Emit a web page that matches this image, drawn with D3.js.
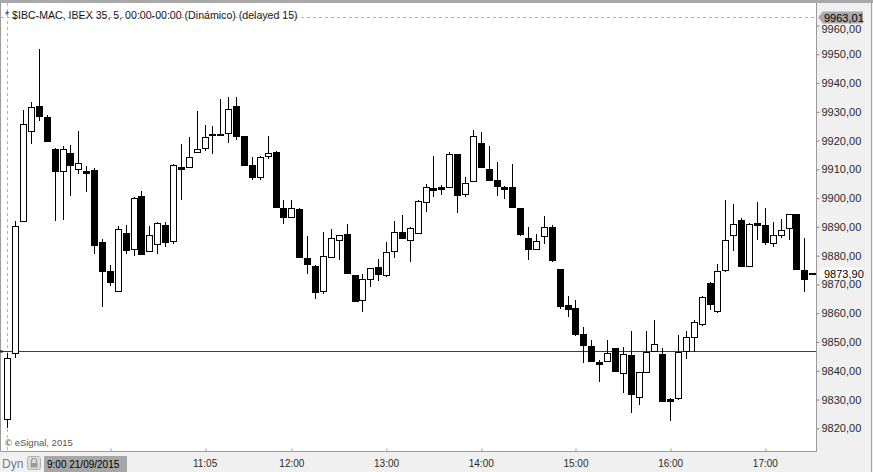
<!DOCTYPE html>
<html>
<head>
<meta charset="utf-8">
<script src="https://cdn.jsdelivr.net/npm/d3@7"></script>
<style>
  body { margin: 0; background: #fff; }
  svg { display: block; font-family: "Liberation Sans", Arial, sans-serif; }
</style>
</head>
<body>
<svg></svg>
<script>
// 5 min bars, IBEX 35, 21/09/2015 from 9:00 to 17:30
const opens = [9823.1, 9846.1, 9891.9, 9923.2, 9931.9, 9928.1, 9917.1, 9909.3, 9915.6, 9910.0,
  9909.4, 9909.8, 9884.7, 9874.7, 9867.6, 9887.8, 9882.2, 9900.6, 9881.5, 9883.9,
  9890.7, 9885.0, 9910.7, 9910.7, 9916.0, 9917.3, 9922.2, 9922.2, 9922.5, 9932.0,
  9921.6, 9911.5, 9907.2, 9914.5, 9916.0, 9896.5, 9893.3, 9896.1, 9879.1, 9876.3,
  9867.8, 9879.6, 9885.3, 9887.5, 9873.3, 9864.5, 9871.8, 9876.0, 9873.4, 9881.5,
  9888.2, 9885.3, 9887.8, 9898.5, 9903.4, 9903.8, 9903.8, 9915.3, 9901.3, 9905.8,
  9919.1, 9910.0, 9906.2, 9903.9, 9903.8, 9896.5, 9886.0, 9882.2, 9886.7, 9889.9,
  9875.3, 9862.7, 9861.8, 9852.8, 9848.6, 9843.0, 9843.3, 9847.8, 9839.1, 9845.4,
  9830.8, 9839.5, 9846.8, 9845.7, 9830.2, 9830.4, 9846.8, 9851.6, 9856.4, 9870.4,
  9860.9, 9875.1, 9887.1, 9892.3, 9876.5, 9891.4, 9890.7, 9884.3, 9887.1, 9889.5,
  9894.4, 9874.9, 9873.9];
const highs = [9846.1, 9892.0, 9930.6, 9933.4, 9951.8, 9928.8, 9917.5, 9918.1, 9918.5, 9923.3,
  9911.2, 9910.5, 9885.7, 9876.8, 9890.3, 9890.7, 9900.5, 9902.5, 9890.3, 9891.6,
  9891.7, 9911.9, 9918.8, 9921.2, 9930.3, 9925.4, 9925.1, 9934.5, 9935.1, 9935.1,
  9921.6, 9914.3, 9914.6, 9921.6, 9916.4, 9899.3, 9899.3, 9896.6, 9886.8, 9876.6,
  9888.2, 9889.3, 9887.1, 9891.0, 9873.3, 9873.6, 9875.6, 9878.8, 9884.7, 9892.2,
  9894.2, 9889.9, 9899.3, 9904.8, 9914.6, 9904.6, 9916.1, 9915.5, 9907.2, 9923.7,
  9922.9, 9918.1, 9912.6, 9904.2, 9911.9, 9896.5, 9889.9, 9887.5, 9893.8, 9890.7,
  9875.3, 9866.0, 9864.6, 9855.2, 9850.7, 9843.7, 9850.7, 9847.8, 9848.3, 9853.8,
  9839.7, 9853.8, 9857.6, 9847.9, 9830.5, 9852.4, 9853.8, 9857.6, 9866.0, 9870.8,
  9877.1, 9899.3, 9898.0, 9893.0, 9891.4, 9898.7, 9896.6, 9891.7, 9892.7, 9894.4,
  9894.4, 9886.0, 9873.9];
const lows = [9820.6, 9844.7, 9891.9, 9919.3, 9927.0, 9920.0, 9892.5, 9892.8, 9901.2, 9908.8,
  9902.6, 9880.8, 9862.6, 9869.8, 9867.6, 9881.0, 9880.3, 9880.7, 9881.5, 9881.0,
  9883.5, 9884.5, 9899.8, 9910.7, 9916.0, 9916.8, 9915.8, 9921.8, 9919.6, 9920.7,
  9911.6, 9906.5, 9906.7, 9914.0, 9897.0, 9891.5, 9893.3, 9879.6, 9874.1, 9865.4,
  9867.1, 9879.6, 9878.9, 9874.1, 9864.3, 9860.9, 9869.6, 9871.5, 9873.0, 9879.6,
  9886.2, 9878.2, 9887.8, 9895.6, 9900.8, 9901.5, 9903.8, 9895.3, 9900.6, 9905.8,
  9910.7, 9906.4, 9901.2, 9900.1, 9897.0, 9887.3, 9878.9, 9882.2, 9884.5, 9878.1,
  9861.9, 9859.1, 9852.5, 9843.1, 9843.5, 9836.5, 9843.3, 9840.0, 9832.7, 9825.8,
  9828.5, 9839.5, 9846.8, 9829.6, 9822.9, 9830.1, 9844.5, 9846.8, 9856.0, 9861.5,
  9860.4, 9874.8, 9882.0, 9876.5, 9876.5, 9885.9, 9883.9, 9883.4, 9886.6, 9885.9,
  9875.5, 9867.8, 9873.9];
const closes = [9844.3, 9890.2, 9925.7, 9931.6, 9928.4, 9920.0, 9909.5, 9917.0, 9911.6, 9912.1,
  9908.8, 9883.8, 9874.6, 9870.9, 9889.2, 9882.1, 9899.9, 9880.7, 9887.1, 9891.2,
  9884.9, 9911.4, 9910.2, 9914.2, 9917.0, 9921.1, 9921.8, 9921.8, 9930.9, 9921.7,
  9911.6, 9907.4, 9914.2, 9915.6, 9897.0, 9893.3, 9896.5, 9879.6, 9877.0, 9867.5,
  9879.8, 9886.0, 9887.1, 9874.1, 9864.3, 9871.8, 9875.6, 9873.7, 9881.2, 9888.1,
  9886.2, 9889.5, 9899.0, 9903.8, 9902.9, 9903.3, 9915.2, 9901.2, 9905.2, 9921.5,
  9910.7, 9906.4, 9904.1, 9903.3, 9897.0, 9887.6, 9882.2, 9885.0, 9889.9, 9878.5,
  9862.6, 9861.6, 9852.8, 9849.1, 9843.5, 9842.4, 9846.1, 9840.0, 9845.7, 9831.8,
  9839.7, 9846.6, 9849.2, 9829.6, 9829.6, 9846.4, 9851.6, 9856.8, 9865.5, 9863.3,
  9874.6, 9885.3, 9890.9, 9876.5, 9890.9, 9890.8, 9884.9, 9887.1, 9888.8, 9894.4,
  9875.5, 9872.0, 9873.9];

// price axis ticks
const priceTicks = [9820, 9830, 9840, 9850, 9860, 9870, 9880, 9890, 9900, 9910, 9920, 9930, 9940, 9950, 9960];
// time axis: bar index of each tick and its label (10:05 sits under the date box)
const timeTickBars = [13, 25, 36, 48, 60, 72, 84, 96];
const timeTickLabels = ["", "11:05", "12:00", "13:00", "14:00", "15:00", "16:00", "17:00"];

const titleText = "* $IBC-MAC, IBEX 35, 5, 00:00-00:00 (Dinámico) (delayed 15)";
const dateText = "9:00 21/09/2015";
const highMark = 9963.01;   // dashed level at the top
const prevClose = 9846.9;   // red reference line
const lastPrice = 9873.90;

const W = 873, H = 472;
const plotRight = 817, plotBottom = 451;

const svg = d3.select("svg").attr("width", W).attr("height", H);

const x = d3.scaleLinear().domain([0, 101]).range([7.3, 804.3]);
const y = d3.scaleLinear().domain([9820, 9960]).range([428.3, 25.5]);

const fmt = v => d3.format(".2f")(v).replace(".", ",");

// right and bottom axis panels
svg.append("rect").attr("x", plotRight).attr("y", 0).attr("width", W - plotRight).attr("height", H).attr("fill", "#f0f0f0");
svg.append("rect").attr("x", 0).attr("y", plotBottom).attr("width", W).attr("height", H - plotBottom).attr("fill", "#f0f0f0");
svg.append("rect").attr("x", 0).attr("y", 0).attr("width", W).attr("height", 3).attr("fill", "#a8a8a8");

// frame
svg.append("path")
  .attr("d", `M0.5,3V${plotBottom + 0.5}H${plotRight - 0.5}V3`)
  .attr("fill", "none").attr("stroke", "#9a9a9a");
svg.append("line").attr("x1", W - 1.5).attr("x2", W - 1.5).attr("y1", 3).attr("y2", H)
  .attr("stroke", "#a0a0a0");

// dashed guides
svg.append("line")
  .attr("x1", 7.5).attr("x2", 7.5).attr("y1", 3).attr("y2", plotBottom)
  .attr("stroke", "#b4b4b4").attr("stroke-dasharray", "3,3");
svg.append("line")
  .attr("x1", 1).attr("x2", plotRight - 3)
  .attr("y1", Math.round(y(highMark)) + 0.5).attr("y2", Math.round(y(highMark)) + 0.5)
  .attr("stroke", "#b4b4b4").attr("stroke-dasharray", "3,3");

// previous close line
const pcY = Math.round(y(prevClose)) + 0.5;
svg.append("line")
  .attr("x1", 1).attr("x2", plotRight - 1).attr("y1", pcY).attr("y2", pcY)
  .attr("stroke", "#d40000");
svg.append("rect").attr("x", 0).attr("y", pcY - 1).attr("width", 3).attr("height", 2).attr("fill", "#222");

// title
svg.append("text")
  .attr("x", 5).attr("y", 19)
  .attr("font-size", 10.6).attr("fill", "#1a1a1a")
  .text(titleText);

// candles
const bars = d3.range(opens.length).map(i => ({
  i, o: opens[i], h: highs[i], l: lows[i], c: closes[i]
}));

const candle = svg.append("g").selectAll("g").data(bars).join("g");

candle.append("line")
  .attr("x1", d => Math.round(x(d.i)) + 0.5)
  .attr("x2", d => Math.round(x(d.i)) + 0.5)
  .attr("y1", d => Math.round(y(d.h)))
  .attr("y2", d => Math.round(y(d.l)) + 1)
  .attr("stroke", "#000");

candle.append("rect")
  .attr("x", d => Math.round(x(d.i)) - 2.5)
  .attr("width", 6)
  .attr("y", d => Math.round(y(Math.max(d.o, d.c))) + 0.5)
  .attr("height", d => Math.max(Math.round(y(Math.min(d.o, d.c))) - Math.round(y(Math.max(d.o, d.c))), 1))
  .attr("fill", d => d.c > d.o ? "#fff" : "#000")
  .attr("stroke", "#000");

// price axis
const yAxis = svg.append("g")
  .attr("transform", `translate(${plotRight - 0.5},0)`)
  .call(d3.axisRight(y).tickValues(priceTicks).tickSize(3).tickPadding(2).tickFormat(fmt));
yAxis.select(".domain").remove();
yAxis.selectAll("line").attr("stroke", "#888");
yAxis.selectAll("text")
  .attr("font-family", "Liberation Sans, Arial, sans-serif")
  .attr("font-size", 11).attr("fill", "#2a2a2a");
// the top label peeks out just below the 9963,01 flag
yAxis.selectAll(".tick").filter(d => d === 9960).select("text").attr("dy", "0.62em");

// price flags on the axis
function flag(value, fill) {
  const cy = Math.round(y(value)) + 0.5;
  const g = svg.append("g");
  g.append("path")
    .attr("d", `M${plotRight + 1},${cy} L${plotRight + 6},${cy - 6} H${plotRight + 46} V${cy + 6} H${plotRight + 6} Z`)
    .attr("fill", fill);
  g.append("text")
    .attr("x", plotRight + 7).attr("y", cy + 4)
    .attr("font-size", 11).attr("fill", "#000")
    .text(fmt(value));
}
flag(highMark, "#a9a9a9");
flag(lastPrice, "#fff");

// time axis
const xAxis = svg.append("g")
  .attr("transform", `translate(0,${plotBottom + 0.5})`)
  .call(d3.axisBottom(x).tickValues(timeTickBars).tickSize(-3).tickPadding(8)
    .tickFormat((d, k) => timeTickLabels[k]));
xAxis.select(".domain").remove();
xAxis.selectAll("line")
  .attr("transform", d => `translate(${Math.round(x(d)) + 0.5 - x(d)},0)`)
  .attr("stroke", "#999");
xAxis.selectAll("text")
  .attr("font-family", "Liberation Sans, Arial, sans-serif")
  .attr("font-size", 10).attr("fill", "#2a2a2a");

// bottom-left controls
svg.append("text")
  .attr("x", 2).attr("y", 468)
  .attr("font-size", 12).attr("fill", "#6a7ca3")
  .text("Dyn");
const lock = svg.append("g").attr("transform", "translate(27,456)");
lock.append("rect").attr("x", 0.5).attr("y", 0.5).attr("width", 13).attr("height", 13).attr("rx", 2)
  .attr("fill", "#dcdcdc").attr("stroke", "#b0b0b0");
lock.append("path").attr("d", "M4.5,7 V5 A2.5,2.5 0 0 1 9.5,5 V7")
  .attr("fill", "none").attr("stroke", "#9a9a9a").attr("stroke-width", 1.2);
lock.append("rect").attr("x", 3.5).attr("y", 7).attr("width", 7).attr("height", 4.5).attr("fill", "#9a9a9a");

svg.append("rect").attr("x", 44).attr("y", 456).attr("width", 83).attr("height", 16).attr("fill", "#a6a6a6");
svg.append("text")
  .attr("x", 47).attr("y", 467.5)
  .attr("font-size", 10).attr("fill", "#000")
  .text(dateText);

svg.append("text")
  .attr("x", 5).attr("y", 446)
  .attr("font-size", 9.5).attr("fill", "#555")
  .text("© eSignal, 2015");
</script>
</body>
</html>
